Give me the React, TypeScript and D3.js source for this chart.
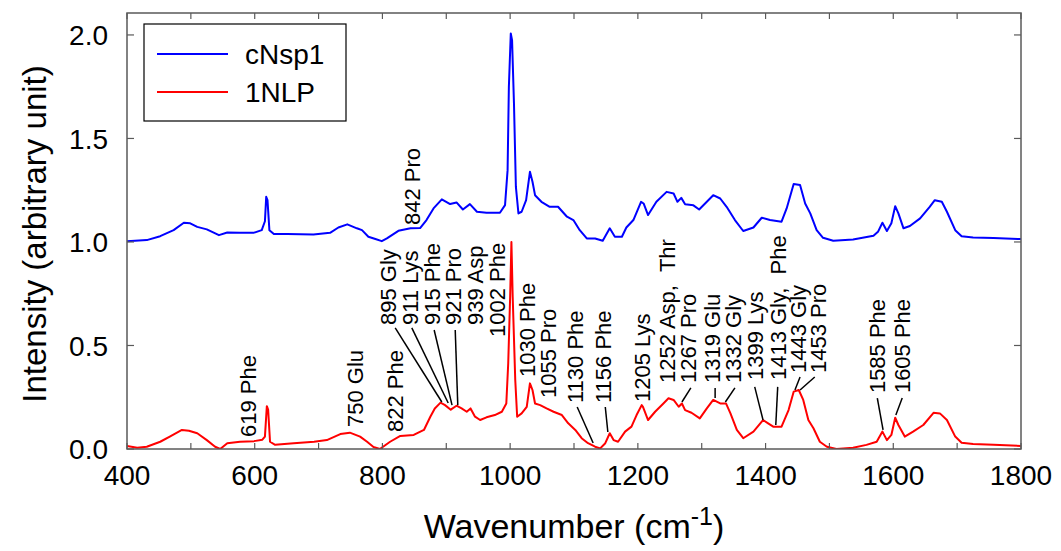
import React from "react";
import * as d3 from "d3";

// Raman spectra: [wavenumber (cm^-1), intensity]
const SPEC_CNSP1: [number, number][] = [
  [400, 1.004], [431, 1.009], [452, 1.028], [473, 1.057], [489, 1.093], [499, 1.09], [510, 1.073],
  [525, 1.061], [544, 1.033], [557, 1.046], [577, 1.044], [598, 1.044], [611, 1.057], [616, 1.1],
  [618, 1.218], [620, 1.202], [623, 1.057], [630, 1.038], [651, 1.038], [692, 1.036], [718, 1.044],
  [731, 1.07], [745, 1.085], [760, 1.066], [768, 1.057], [778, 1.025], [789, 1.014], [799, 1.004],
  [807, 1.017], [825, 1.054], [844, 1.066], [859, 1.067], [869, 1.106], [880, 1.162], [893, 1.206],
  [906, 1.183], [916, 1.191], [926, 1.157], [937, 1.183], [948, 1.146], [963, 1.141], [984, 1.141],
  [992, 1.178], [996, 1.347], [998, 1.749], [1001, 2.007], [1003, 1.975], [1006, 1.669], [1009, 1.266],
  [1013, 1.138], [1018, 1.146], [1025, 1.202], [1031, 1.339], [1035, 1.291], [1039, 1.226],
  [1049, 1.194], [1062, 1.17], [1075, 1.17], [1089, 1.122], [1099, 1.106], [1109, 1.057],
  [1120, 1.017], [1133, 1.017], [1145, 1.006], [1156, 1.066], [1164, 1.025], [1175, 1.025],
  [1182, 1.07], [1193, 1.106], [1205, 1.194], [1209, 1.186], [1216, 1.13], [1229, 1.194],
  [1245, 1.242], [1256, 1.234], [1262, 1.194], [1268, 1.213], [1274, 1.182], [1287, 1.177],
  [1296, 1.157], [1308, 1.194], [1318, 1.226], [1329, 1.21], [1339, 1.17], [1352, 1.106],
  [1365, 1.053], [1381, 1.07], [1394, 1.117], [1407, 1.106], [1425, 1.098], [1433, 1.162],
  [1444, 1.28], [1454, 1.275], [1462, 1.186], [1470, 1.138], [1480, 1.057], [1490, 1.02],
  [1506, 1.006], [1537, 1.012], [1569, 1.03], [1576, 1.049], [1583, 1.093], [1590, 1.053],
  [1597, 1.09], [1603, 1.173], [1608, 1.138], [1616, 1.066], [1626, 1.077], [1642, 1.114],
  [1657, 1.17], [1665, 1.202], [1676, 1.194], [1684, 1.146], [1697, 1.057], [1707, 1.028],
  [1725, 1.022], [1757, 1.019], [1800, 1.014],
];

const SPEC_1NLP: [number, number][] = [
  [400, 0.015], [416, 0.006], [431, 0.011], [452, 0.035], [467, 0.06], [486, 0.092], [497, 0.088],
  [510, 0.076], [525, 0.043], [538, 0.011], [546, 0], [557, 0.028], [577, 0.035], [599, 0.038],
  [612, 0.045], [616, 0.06], [619, 0.207], [621, 0.19], [624, 0.035], [632, 0.02], [661, 0.028],
  [693, 0.035], [713, 0.043], [734, 0.072], [749, 0.079], [765, 0.06], [776, 0.035], [786, 0.01],
  [796, 0], [812, 0.035], [828, 0.063], [849, 0.068], [865, 0.092], [875, 0.156], [882, 0.196],
  [891, 0.224], [898, 0.212], [907, 0.19], [916, 0.209], [924, 0.196], [932, 0.18], [938, 0.196],
  [945, 0.156], [953, 0.14], [963, 0.153], [976, 0.164], [987, 0.18], [994, 0.22], [997, 0.414],
  [1000, 0.735], [1002, 1.0], [1004, 0.735], [1008, 0.333], [1011, 0.156], [1018, 0.172],
  [1026, 0.204], [1031, 0.317], [1035, 0.285], [1039, 0.22], [1047, 0.212], [1057, 0.196],
  [1068, 0.18], [1081, 0.164], [1091, 0.124], [1102, 0.092], [1112, 0.052], [1122, 0.028],
  [1133, 0.011], [1141, 0.003], [1149, 0.028], [1156, 0.076], [1162, 0.043], [1169, 0.035],
  [1180, 0.084], [1190, 0.108], [1198, 0.164], [1206, 0.212], [1208, 0.204], [1216, 0.14],
  [1227, 0.18], [1240, 0.22], [1248, 0.245], [1256, 0.237], [1264, 0.204], [1269, 0.22],
  [1274, 0.188], [1284, 0.175], [1297, 0.148], [1308, 0.196], [1318, 0.237], [1329, 0.22],
  [1338, 0.22], [1345, 0.172], [1355, 0.092], [1365, 0.052], [1381, 0.084], [1396, 0.14],
  [1404, 0.124], [1412, 0.108], [1425, 0.108], [1436, 0.188], [1444, 0.277], [1452, 0.285],
  [1459, 0.237], [1467, 0.14], [1475, 0.1], [1485, 0.035], [1496, 0.011], [1511, 0], [1537, 0.006],
  [1558, 0.02], [1574, 0.035], [1583, 0.084], [1590, 0.043], [1597, 0.068], [1603, 0.151],
  [1608, 0.116], [1618, 0.06], [1631, 0.084], [1647, 0.116], [1663, 0.175], [1673, 0.172],
  [1684, 0.14], [1697, 0.06], [1707, 0.03], [1725, 0.024], [1757, 0.02], [1800, 0.015],
];

const SERIES_NAMES = ["cNsp1", "1NLP"];
const SERIES_COLORS = ["#0000ff", "#ff0000"];

const X_TICKS = [400, 600, 800, 1000, 1200, 1400, 1600, 1800];
const X_MINOR_TICKS = d3.range(400, 1801, 100);
const Y_TICKS = [0, 0.5, 1.0, 1.5, 2.0];

// Peak assignments: label text, label centre (wn), label foot (intensity),
// optional leader from label foot to a point on the spectrum.
type Peak = {
  text: string;
  second?: string;
  wn: number;
  base: number;
  lead?: [number, number, number, number];
};

const PEAKS: Peak[] = [
  { text: "619 Phe", wn: 589, base: 0.058 },
  { text: "750 Glu", wn: 757, base: 0.106 },
  { text: "822 Phe", wn: 820, base: 0.082 },
  { text: "842 Pro", wn: 846, base: 1.082 },
  { text: "895 Gly", wn: 809, base: 0.599, lead: [820, 0.585, 893, 0.227] },
  { text: "911 Lys", wn: 843, base: 0.599, lead: [846, 0.585, 903, 0.222] },
  { text: "915 Phe", wn: 878, base: 0.599, lead: [881, 0.575, 909, 0.212] },
  { text: "921 Pro", wn: 911, base: 0.599, lead: [914, 0.575, 918, 0.212] },
  { text: "939 Asp", wn: 945, base: 0.599 },
  { text: "1002 Phe", wn: 979, base: 0.541 },
  { text: "1030 Phe", wn: 1026, base: 0.348 },
  { text: "1055 Pro", wn: 1059, base: 0.246 },
  { text: "1130 Phe", wn: 1102, base: 0.222, lead: [1105, 0.203, 1130, 0.029] },
  { text: "1156 Phe", wn: 1145, base: 0.222, lead: [1149, 0.203, 1153, 0.082] },
  { text: "1205 Lys", wn: 1207, base: 0.227 },
  { text: "1252 Asp,", second: "Thr", wn: 1246, base: 0.319 },
  { text: "1267 Pro", wn: 1279, base: 0.319, lead: [1283, 0.295, 1269, 0.227] },
  { text: "1319 Glu", wn: 1316, base: 0.319, lead: [1321, 0.295, 1321, 0.246] },
  { text: "1332 Gly", wn: 1349, base: 0.319, lead: [1352, 0.295, 1337, 0.227] },
  { text: "1399 Lys", wn: 1383, base: 0.333, lead: [1383, 0.3, 1396, 0.14] },
  { text: "1413 Gly,", second: "Phe", wn: 1419, base: 0.333, lead: [1419, 0.3, 1416, 0.116] },
  { text: "1443 Gly", wn: 1451, base: 0.367, lead: [1454, 0.348, 1446, 0.285] },
  { text: "1453 Pro", wn: 1483, base: 0.367, lead: [1477, 0.348, 1454, 0.285] },
  { text: "1585 Phe", wn: 1575, base: 0.27, lead: [1575, 0.246, 1584, 0.092] },
  { text: "1605 Phe", wn: 1614, base: 0.27, lead: [1614, 0.246, 1604, 0.164] },
];

const W = 1061;
const H = 551;
const M = { left: 127, right: 1021, top: 13, bottom: 449 };
const FONT = "'Liberation Sans', Arial, Helvetica, sans-serif";
const AXIS_COLOR = "#5a5a5a";

export default function App() {
  const x = d3.scaleLinear().domain([400, 1800]).range([M.left, M.right]);
  const y = d3.scaleLinear().domain([0, 2.106]).range([M.bottom, M.top]);

  const line = d3
    .line<[number, number]>()
    .x((d) => x(d[0]))
    .y((d) => y(d[1]));

  const series = [SPEC_CNSP1, SPEC_1NLP];
  const tickLen = 6;

  return (
    <svg
      width={W}
      height={H}
      style={{ position: "absolute", left: 0, top: 0, background: "#fff" }}
      fontFamily={FONT}
    >
      <defs>
        <clipPath id="plot-clip">
          <rect x={M.left} y={M.top} width={M.right - M.left} height={M.bottom - M.top} />
        </clipPath>
      </defs>

      {/* spectra */}
      <g clipPath="url(#plot-clip)">
        {series.map((s, i) => (
          <path
            key={SERIES_NAMES[i]}
            d={line(s) || ""}
            fill="none"
            stroke={SERIES_COLORS[i]}
            strokeWidth={2}
            strokeLinejoin="round"
          />
        ))}
      </g>

      {/* peak assignments */}
      <g fontSize={22} fill="#000">
        {PEAKS.map((p) => (
          <g key={p.text + p.wn}>
            <text
              transform={`translate(${x(p.wn)},${y(p.base)}) rotate(-90)`}
              dy="0.36em"
              textAnchor="start"
            >
              {p.text}
              {p.second && <tspan dx={13}>{p.second}</tspan>}
            </text>
            {p.lead && (
              <line
                x1={x(p.lead[0])}
                y1={y(p.lead[1])}
                x2={x(p.lead[2])}
                y2={y(p.lead[3])}
                stroke="#000"
                strokeWidth={1.5}
              />
            )}
          </g>
        ))}
      </g>

      {/* frame */}
      <rect
        x={M.left}
        y={M.top}
        width={M.right - M.left}
        height={M.bottom - M.top}
        fill="none"
        stroke={AXIS_COLOR}
        strokeWidth={1.5}
      />

      {/* x ticks, bottom and top; y ticks, left and right */}
      <g stroke={AXIS_COLOR} strokeWidth={1.2}>
        {X_MINOR_TICKS.map((t) => (
          <g key={t}>
            <line x1={x(t)} x2={x(t)} y1={M.bottom} y2={M.bottom - tickLen} />
            <line x1={x(t)} x2={x(t)} y1={M.top} y2={M.top + tickLen} />
          </g>
        ))}
        {Y_TICKS.map((t) => (
          <g key={t}>
            <line x1={M.left} x2={M.left + tickLen + 1} y1={y(t)} y2={y(t)} />
            <line x1={M.right} x2={M.right - tickLen - 1} y1={y(t)} y2={y(t)} />
          </g>
        ))}
      </g>

      <g fontSize={28} fill="#000">
        {X_TICKS.map((t) => (
          <text key={t} x={x(t)} y={M.bottom + 36} textAnchor="middle">
            {t}
          </text>
        ))}
        {Y_TICKS.map((t) => (
          <text key={t} x={M.left - 19} y={y(t)} dy="0.36em" textAnchor="end">
            {d3.format(".1f")(t)}
          </text>
        ))}
      </g>

      {/* axis titles */}
      <text x={(M.left + M.right) / 2} y={538} textAnchor="middle" fontSize={34}>
        Wavenumber (cm
        <tspan dy={-13} fontSize={25}>
          -1
        </tspan>
        <tspan dy={13}>)</tspan>
      </text>
      <text
        transform={`translate(46,${(M.top + M.bottom) / 2 + 3}) rotate(-90)`}
        textAnchor="middle"
        fontSize={33}
      >
        Intensity (arbitrary unit)
      </text>

      {/* legend */}
      <g>
        <rect x={144} y={24} width={202} height={97} fill="#fff" stroke="#000" strokeWidth={1.2} />
        {SERIES_NAMES.map((n, i) => (
          <g key={n}>
            <line
              x1={157}
              x2={228}
              y1={54 + i * 38}
              y2={54 + i * 38}
              stroke={SERIES_COLORS[i]}
              strokeWidth={2}
            />
            <text x={245} y={54 + i * 38} dy="0.36em" fontSize={28}>
              {n}
            </text>
          </g>
        ))}
      </g>
    </svg>
  );
}
